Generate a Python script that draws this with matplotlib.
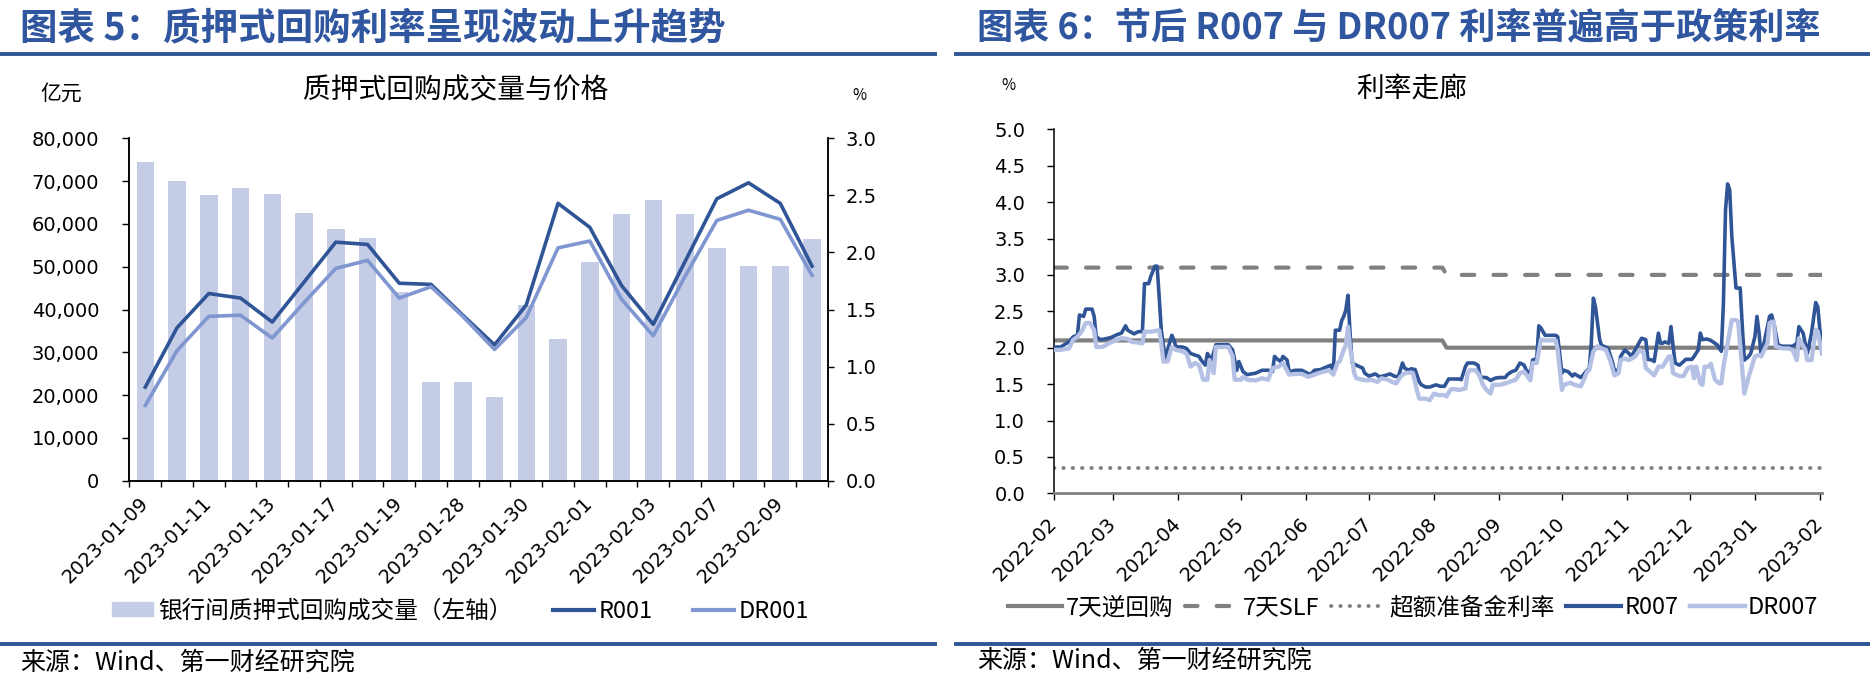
import numpy as np
import pandas as pd
import matplotlib
matplotlib.use('Agg')
import matplotlib.pyplot as plt
import matplotlib.dates as mdates
from matplotlib.lines import Line2D
from matplotlib.patches import Patch
from matplotlib.ticker import FuncFormatter

CJK = ['Noto Sans CJK SC', 'DejaVu Sans']
NUM = ['DejaVu Sans']
plt.rcParams['font.family'] = CJK
plt.rcParams['axes.unicode_minus'] = False

# ---------------- Chart 5 data ----------------
repo_dates = ['2023-01-09', '2023-01-10', '2023-01-11', '2023-01-12', '2023-01-13', '2023-01-16',
              '2023-01-17', '2023-01-18', '2023-01-19', '2023-01-20', '2023-01-28', '2023-01-29',
              '2023-01-30', '2023-01-31', '2023-02-01', '2023-02-02', '2023-02-03', '2023-02-06',
              '2023-02-07', '2023-02-08', '2023-02-09', '2023-02-10']
repo_volume = [74500, 70000, 66800, 68500, 67000, 62500, 58700, 56700, 44000, 23000, 23000,
               19500, 41000, 33100, 51200, 62200, 65600, 62200, 54400, 50200, 50200, 56500]
r001 = [0.82, 1.34, 1.64, 1.60, 1.39, 1.74, 2.09, 2.07, 1.73, 1.72, 1.45,
        1.19, 1.54, 2.43, 2.22, 1.71, 1.37, 1.92, 2.47, 2.61, 2.43, 1.88]
dr001 = [0.66, 1.14, 1.44, 1.45, 1.25, 1.56, 1.86, 1.93, 1.60, 1.70, 1.44,
         1.15, 1.43, 2.04, 2.10, 1.59, 1.27, 1.79, 2.28, 2.37, 2.29, 1.80]

# ---------------- Chart 6 data (day offsets from 2022-02-01) ----------------
start_date = '2022-02-01'
r007_day = [0, 3, 7, 9, 11, 12, 14, 15, 18, 19, 20, 22, 24, 27, 30, 32, 34, 35, 38, 40, 42, 43, 45, 46,
            48, 49, 50, 51, 53, 54, 56, 57, 58, 61, 63, 65, 67, 69, 70, 72, 73, 75, 77, 80, 83, 85, 86,
            87, 88, 90, 92, 96, 99, 102, 104, 105, 106, 108, 109, 111, 112, 115, 118, 120, 122, 124,
            127, 131, 132, 133, 134, 136, 137, 138, 139, 140, 141, 142, 144, 147, 148, 150, 153, 155,
            158, 160, 162, 164, 166, 167, 169, 170, 172, 174, 175, 177, 179, 182, 184, 186, 188, 190,
            193, 194, 196, 197, 200, 202, 203, 205, 206, 208, 210, 212, 215, 216, 218, 220, 222, 224,
            225, 227, 228, 230, 231, 232, 234, 236, 239, 240, 242, 243, 245, 247, 248, 251, 252, 254,
            255, 256, 257, 258, 260, 261, 262, 264, 266, 267, 269, 270, 272, 274, 275, 277, 279, 280,
            282, 283, 285, 286, 288, 289, 290, 291, 293, 294, 295, 296, 298, 300, 301, 304, 305, 307,
            308, 309, 311, 313, 316, 318, 319, 320, 321, 322, 323, 325, 327, 328, 329, 331, 332, 334,
            335, 336, 337, 339, 341, 342, 343, 345, 347, 350, 352, 354, 355, 357, 359, 361, 363, 364,
            365, 366]
r007 = [2.01, 2.01, 2.08, 2.15, 2.17, 2.45, 2.43, 2.53, 2.53, 2.43, 2.15, 2.11, 2.12, 2.14, 2.18, 2.20,
        2.30, 2.24, 2.19, 2.22, 2.22, 2.88, 2.88, 2.98, 3.12, 3.12, 2.70, 2.24, 1.83, 1.97, 2.17, 2.11,
        2.01, 2.01, 1.99, 1.92, 1.90, 1.88, 1.83, 1.76, 1.92, 1.83, 2.04, 2.04, 2.04, 1.97, 1.83, 1.69,
        1.81, 1.67, 1.63, 1.65, 1.69, 1.69, 1.67, 1.88, 1.85, 1.81, 1.88, 1.83, 1.67, 1.69, 1.69, 1.66,
        1.63, 1.69, 1.70, 1.75, 1.76, 1.65, 2.24, 2.24, 2.37, 2.43, 2.52, 2.72, 2.20, 1.79, 1.76, 1.72,
        1.65, 1.61, 1.64, 1.60, 1.62, 1.64, 1.61, 1.60, 1.79, 1.72, 1.69, 1.71, 1.70, 1.53, 1.49, 1.46,
        1.46, 1.49, 1.47, 1.47, 1.57, 1.57, 1.57, 1.56, 1.74, 1.79, 1.79, 1.76, 1.60, 1.59, 1.59, 1.55,
        1.58, 1.59, 1.59, 1.63, 1.67, 1.69, 1.79, 1.76, 1.69, 1.65, 1.83, 1.85, 2.30, 2.27, 2.17, 2.17,
        2.17, 2.15, 1.65, 1.69, 1.67, 1.61, 1.64, 1.59, 1.62, 1.69, 1.70, 2.06, 2.68, 2.56, 2.11, 2.02,
        2.02, 1.99, 1.81, 1.69, 1.69, 1.88, 1.97, 1.92, 1.88, 1.97, 2.08, 2.13, 2.11, 1.84, 1.83, 1.81,
        2.20, 2.06, 2.06, 2.08, 2.06, 2.29, 2.02, 1.79, 1.76, 1.81, 1.84, 1.84, 1.88, 1.97, 2.20, 2.11,
        2.12, 2.10, 2.04, 1.95, 2.61, 3.89, 4.25, 4.17, 3.53, 2.82, 2.82, 2.29, 1.83, 1.88, 1.92, 2.15,
        2.43, 2.20, 1.88, 2.15, 2.43, 2.45, 2.34, 2.04, 2.02, 2.02, 2.02, 2.06, 2.29, 2.20, 1.92, 2.20,
        2.62, 2.56, 2.24, 2.08]
dr007_day = [0, 3, 7, 9, 11, 13, 15, 17, 19, 20, 23, 26, 29, 32, 35, 37, 40, 42, 43, 46, 50, 51, 52,
             54, 56, 58, 61, 63, 65, 67, 69, 71, 73, 74, 76, 77, 80, 83, 85, 86, 89, 90, 92, 96, 99,
             102, 104, 107, 109, 112, 115, 118, 121, 124, 127, 131, 133, 135, 136, 138, 139, 140, 141,
             143, 144, 147, 149, 151, 154, 156, 159, 161, 163, 165, 167, 170, 171, 173, 174, 177, 179,
             181, 183, 186, 187, 189, 191, 193, 196, 197, 198, 201, 203, 204, 206, 208, 209, 212, 214,
             216, 220, 222, 224, 227, 228, 230, 232, 234, 236, 239, 240, 242, 243, 246, 248, 251, 252,
             254, 255, 257, 259, 261, 263, 265, 267, 269, 270, 272, 274, 277, 279, 281, 282, 284, 286,
             288, 290, 293, 294, 295, 298, 300, 302, 304, 305, 306, 308, 309, 310, 312, 313, 315, 317,
             318, 319, 321, 323, 325, 326, 328, 329, 331, 332, 334, 336, 337, 340, 341, 343, 344, 347,
             350, 352, 354, 355, 358, 359, 361, 363, 364, 366]
dr007 = [1.97, 1.97, 1.99, 2.11, 2.15, 2.22, 2.34, 2.34, 2.24, 2.01, 2.01, 2.06, 2.10, 2.13, 2.12,
         2.08, 2.07, 2.06, 2.22, 2.22, 2.24, 2.06, 1.81, 1.81, 2.01, 1.97, 1.95, 1.92, 1.74, 1.79, 1.76,
         1.56, 1.56, 1.83, 1.65, 2.01, 2.01, 2.01, 1.88, 1.56, 1.56, 1.60, 1.56, 1.55, 1.58, 1.56, 1.72,
         1.74, 1.79, 1.63, 1.64, 1.64, 1.60, 1.63, 1.66, 1.69, 1.63, 1.79, 1.81, 1.97, 2.04, 2.29, 2.01,
         1.65, 1.58, 1.56, 1.55, 1.56, 1.53, 1.58, 1.56, 1.53, 1.51, 1.60, 1.65, 1.66, 1.65, 1.40, 1.30,
         1.30, 1.28, 1.37, 1.35, 1.35, 1.33, 1.43, 1.43, 1.42, 1.44, 1.64, 1.69, 1.69, 1.60, 1.51, 1.42,
         1.37, 1.49, 1.49, 1.50, 1.52, 1.56, 1.65, 1.67, 1.55, 1.79, 1.79, 2.11, 2.10, 2.10, 2.10, 1.97,
         1.42, 1.49, 1.52, 1.49, 1.47, 1.53, 1.67, 1.69, 1.95, 2.02, 1.99, 1.97, 1.83, 1.62, 1.65, 1.83,
         1.85, 1.83, 1.88, 1.97, 1.93, 1.72, 1.67, 1.62, 1.74, 1.74, 1.88, 1.88, 1.65, 1.61, 1.61, 1.72,
         1.74, 1.58, 1.74, 1.51, 1.49, 1.74, 1.74, 1.78, 1.56, 1.51, 1.51, 1.74, 2.06, 2.38, 2.38, 2.36,
         1.69, 1.37, 1.60, 1.69, 1.88, 1.90, 1.88, 2.06, 2.34, 2.36, 2.02, 1.99, 1.99, 1.97, 1.83, 2.13,
         1.97, 1.83, 1.83, 2.25, 2.22, 1.92]
policy_day = [0, 185, 187, 366]
reverse_repo_7d = [2.1, 2.1, 2.0, 2.0]
slf_7d = [3.1, 3.1, 3.0, 3.0]
excess_day = [0, 366]
excess_reserve = [0.35, 0.35]

# ---------------- styles ----------------
W, H = 1870, 685
BLUE_T = '#3056A0'
C_BAR = '#C5CCE6'
C_DARK = '#2F5597'
C_MID = '#7F96D0'
C_LIGHT = '#B4C0E4'
C_GRAY = '#808080'

def fx(px):
    return px / W

def fy(py):
    return 1 - py / H

fig = plt.figure(figsize=(W / 100, H / 100), dpi=100)

# ---------- headers / footers ----------
fig.text(fx(20), fy(28), '图表 5：质押式回购利率呈现波动上升趋势', fontsize=27, fontweight='bold',
         color=BLUE_T, ha='left', va='center', family=CJK)
fig.text(fx(977), fy(28), '图表 6：节后 R007 与 DR007 利率普遍高于政策利率', fontsize=26, fontweight='bold',
         color=BLUE_T, ha='left', va='center', family=CJK)
for (x0, x1) in [(0, 935), (956, 1870)]:
    fig.add_artist(Line2D([fx(x0), fx(x1)], [fy(53.5), fy(53.5)], color=C_DARK, lw=2.8,
                          transform=fig.transFigure))
    fig.add_artist(Line2D([fx(x0), fx(x1)], [fy(643.5), fy(643.5)], color=C_DARK, lw=2.8,
                          transform=fig.transFigure))
fig.text(fx(20), fy(663), '来源：Wind、第一财经研究院', fontsize=18, ha='left', va='center', family=CJK)
fig.text(fx(977), fy(661), '来源：Wind、第一财经研究院', fontsize=18, ha='left', va='center', family=CJK)

# ---------- Chart 5 ----------
ax1 = fig.add_axes([fx(129.4), fy(480.7), fx(827.9 - 129.4), (480.7 - 138.3) / H])
idx = np.arange(len(repo_dates))
ax1.bar(idx, repo_volume, width=0.55, color=C_BAR, zorder=1)
ax1.set_xlim(-0.5, len(repo_dates) - 0.5)
ax1.set_ylim(0, 80000)
ax1.set_yticks(np.arange(0, 80001, 10000))
ax1.yaxis.set_major_formatter(FuncFormatter(lambda v, p: f'{int(v):,}'))
ax1.tick_params(axis='y', labelsize=14, length=4.7, width=1, pad=17, colors='black')
ax1.set_xticks(np.arange(-0.5, len(repo_dates), 1))
ax1.set_xticklabels([])
ax1.set_xticks(idx[::2], [repo_dates[i] for i in idx[::2]], minor=True)
ax1.tick_params(axis='x', which='major', length=4, width=1)
ax1.tick_params(axis='x', which='minor', length=0, labelsize=14, pad=14)
for lab in ax1.get_xticklabels(minor=True):
    lab.set_rotation(45)
    lab.set_ha('right')
    lab.set_va('center')
    lab.set_rotation_mode('anchor')
    lab.set_family(NUM)
for lab in ax1.get_yticklabels():
    lab.set_family(NUM)
ax1.spines['top'].set_visible(False)
for s in ['left', 'bottom', 'right']:
    ax1.spines[s].set_linewidth(1.1)
    ax1.spines[s].set_color('black')

ax2 = ax1.twinx()
ax2.plot(idx, r001, color=C_DARK, lw=2.6, zorder=3)
ax2.plot(idx, dr001, color=C_MID, lw=2.6, zorder=4)
ax2.set_ylim(0, 3.0)
ax2.set_yticks(np.arange(0, 3.01, 0.5))
ax2.yaxis.set_major_formatter(FuncFormatter(lambda v, p: f'{v:.1f}'))
ax2.tick_params(axis='y', labelsize=14, length=4, width=1, pad=9)
for lab in ax2.get_yticklabels():
    lab.set_family(NUM)
ax2.spines['top'].set_visible(False)
for s in ['left', 'bottom', 'right']:
    ax2.spines[s].set_linewidth(1.1)

fig.text(fx(61), fy(94), '亿元', fontsize=15, ha='center', va='center', family=CJK)
fig.text(fx(859.5), fy(95), '%', fontsize=11, ha='center', va='center', family=CJK)
fig.text(fx(456), fy(90), '质押式回购成交量与价格', fontsize=20, ha='center', va='center', family=CJK)

h1 = [Patch(color=C_BAR), Line2D([], [], color=C_DARK, lw=3), Line2D([], [], color=C_MID, lw=3)]
fig.legend(h1, ['银行间质押式回购成交量（左轴）', 'R001', 'DR001'], loc='center left',
           bbox_to_anchor=(fx(112), fy(611)), ncol=3, frameon=False,
           prop={'family': CJK, 'size': 17}, handlelength=1.75, handleheight=0.55,
           handletextpad=0.2, columnspacing=1.7, borderpad=0, borderaxespad=0)

# ---------- Chart 6 ----------
base = pd.Timestamp(start_date)
def to_dates(days):
    return base + pd.to_timedelta(np.asarray(days, dtype=float), unit='D')

ax3 = fig.add_axes([fx(1054.3), fy(493.3), fx(1822 - 1054.3), (493.3 - 129.3) / H])
ax3.plot(to_dates(policy_day), reverse_repo_7d, color=C_GRAY, lw=3, zorder=2)
ax3.plot(to_dates(policy_day), slf_7d, color=C_GRAY, lw=3, dashes=(3, 4.6),
         dash_capstyle='round', zorder=2)
ax3.plot(to_dates(excess_day), excess_reserve, color=C_GRAY, lw=2.8, dashes=(0.1, 2.3),
         dash_capstyle='round', zorder=2)
ax3.plot(to_dates(r007_day), r007, color=C_DARK, lw=2.6, zorder=3)
ax3.plot(to_dates(dr007_day), dr007, color=C_LIGHT, lw=3.1, zorder=4)
ax3.set_xlim(base, base + pd.Timedelta(days=366))
ax3.set_ylim(0, 5.0)
ax3.set_yticks(np.arange(0, 5.01, 0.5))
ax3.yaxis.set_major_formatter(FuncFormatter(lambda v, p: f'{v:.1f}'))
ax3.xaxis.set_major_locator(mdates.MonthLocator())
ax3.xaxis.set_major_formatter(mdates.DateFormatter('%Y-%m'))
ax3.tick_params(axis='y', labelsize=14, length=5, width=1, pad=16)
ax3.tick_params(axis='x', labelsize=14, length=5, width=1, pad=15)
for lab in ax3.get_xticklabels():
    lab.set_rotation(45)
    lab.set_ha('right')
    lab.set_va('center')
    lab.set_rotation_mode('anchor')
    lab.set_family(NUM)
for lab in ax3.get_yticklabels():
    lab.set_family(NUM)
ax3.spines['top'].set_visible(False)
ax3.spines['right'].set_visible(False)
ax3.spines['left'].set_linewidth(1.1)
ax3.spines['bottom'].set_color(C_GRAY)
ax3.spines['bottom'].set_linewidth(2)

fig.text(fx(1008), fy(85), '%', fontsize=11, ha='center', va='center', family=CJK)
fig.text(fx(1412), fy(90), '利率走廊', fontsize=20, ha='center', va='center', family=CJK)

h2 = [Line2D([], [], color=C_GRAY, lw=3),
      Line2D([], [], color=C_GRAY, lw=3, dashes=(3, 4.6), dash_capstyle='round'),
      Line2D([], [], color=C_GRAY, lw=2.8, dashes=(0.1, 2.3), dash_capstyle='round'),
      Line2D([], [], color=C_DARK, lw=3),
      Line2D([], [], color=C_LIGHT, lw=3.2)]
fig.legend(h2, ['7天逆回购', '7天SLF', '超额准备金利率', 'R007', 'DR007'], loc='center left',
           bbox_to_anchor=(fx(1008), fy(608)), ncol=5, frameon=False,
           prop={'family': CJK, 'size': 17}, handlelength=2.3, handletextpad=0.15,
           columnspacing=0.5, borderpad=0, borderaxespad=0)

fig.savefig('out.png', dpi=100)
